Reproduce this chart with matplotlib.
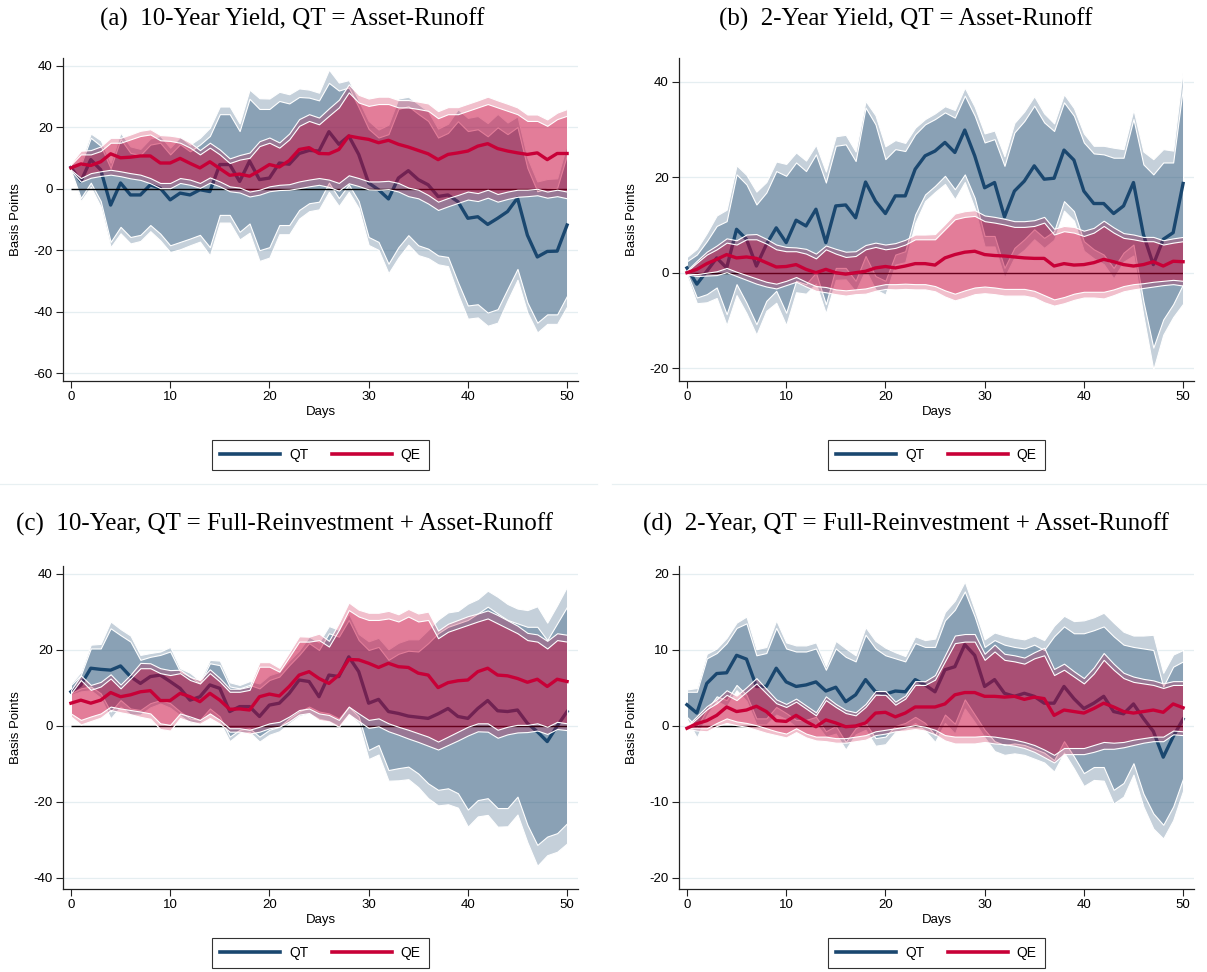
import numpy as np
import matplotlib.pyplot as plt
from matplotlib.lines import Line2D

plt.rcParams['font.family'] = ['Liberation Sans', 'DejaVu Sans']
plt.rcParams['axes.unicode_minus'] = False

days = np.arange(51)

# (a) 10-year yield, QT = asset-runoff
qt_mean_a = [7.0, 2.4, 9.5, 6.2, -5.3, 1.9, -2.0, -2.0, 1.3, 0.2,
             -3.6, -1.4, -2.0, -0.3, -0.9, 7.9, 7.9, 2.4, 9.0, 3.0,
             3.5, 8.4, 8.0, 11.5, 12.5, 12.3, 18.6, 14.5, 17.2, 11.2,
             1.9, -0.3, -3.3, 3.5, 5.9, 3.0, 1.3, -2.5, -2.0, -4.2,
             -9.6, -9.1, -11.6, -9.6, -7.4, -3.0, -15.1, -22.2, -20.4, -20.3, -11.8]
qt_lo_a = [6.0, -3.0, 2.0, -4.0, -17.3, -12.4, -15.7, -15.0, -11.8, -14.6,
           -18.4, -17.3, -16.2, -15.0, -19.0, -8.5, -8.5, -14.0, -11.3, -20.0,
           -19.0, -11.8, -11.8, -6.9, -4.7, -4.2, 2.0, -3.0, 1.4, -4.0,
           -15.7, -17.3, -24.4, -19.0, -15.1, -18.4, -19.5, -21.7, -22.2, -30.4,
           -38.0, -37.6, -40.3, -39.2, -32.6, -26.1, -37.0, -43.6, -40.9, -40.9, -34.8]
qt_hi_a = [8.0, 7.8, 16.6, 14.0, 6.7, 16.2, 11.7, 11.0, 14.4, 15.0,
           11.2, 14.5, 12.2, 14.4, 17.2, 24.3, 24.3, 18.8, 29.3, 26.0,
           26.0, 28.6, 27.8, 29.9, 29.7, 28.8, 34.5, 32.0, 33.0, 26.5,
           19.5, 16.7, 17.8, 26.0, 26.9, 24.4, 22.1, 16.7, 18.2, 22.0,
           18.8, 19.4, 17.1, 20.0, 17.8, 20.1, 6.8, -0.8, 0.1, 0.3, 11.2]
qt_lo95_a = [5.7, -4.0, 0.6, -5.8, -19.0, -14.5, -17.8, -17.0, -13.8, -16.8,
             -20.6, -19.7, -18.4, -17.2, -21.7, -11.0, -11.0, -16.5, -14.3, -23.5,
             -22.4, -14.8, -14.8, -9.7, -7.3, -6.7, -1.0, -5.6, -1.0, -6.3,
             -18.3, -19.9, -27.5, -22.4, -18.2, -21.6, -22.6, -24.6, -25.2, -34.3,
             -42.3, -41.9, -44.6, -43.6, -36.4, -29.6, -40.3, -46.8, -44.0, -44.0, -38.3]
qt_hi95_a = [8.3, 8.8, 18.0, 15.8, 8.5, 18.3, 13.8, 13.0, 16.4, 17.2,
             13.4, 16.9, 14.4, 16.6, 19.9, 26.8, 26.8, 21.3, 32.3, 29.5,
             29.4, 31.6, 30.8, 32.7, 32.3, 31.3, 38.8, 34.6, 35.4, 28.8,
             22.1, 19.3, 20.9, 29.4, 30.0, 27.6, 25.2, 19.6, 21.2, 25.9,
             23.1, 23.7, 21.4, 24.4, 21.6, 23.6, 10.1, 2.4, 3.2, 3.4, 14.7]
qe_mean_a = [6.8, 8.1, 7.6, 8.8, 11.4, 10.1, 10.3, 10.7, 10.7, 8.4,
             8.4, 9.9, 8.3, 6.8, 8.8, 6.6, 4.4, 4.8, 4.1, 5.9,
             7.9, 7.1, 9.2, 12.8, 13.4, 11.5, 11.4, 12.8, 17.2, 16.6,
             16.1, 15.0, 15.8, 14.5, 13.6, 12.5, 11.4, 9.5, 11.2, 11.7,
             12.3, 13.9, 14.7, 13.1, 12.3, 11.7, 11.2, 11.7, 9.5, 11.5, 11.5]
qe_lo_a = [6.2, 3.5, 5.1, 5.7, 6.2, 5.7, 5.1, 4.6, 3.5, 1.9,
           1.9, 3.5, 3.0, 1.9, 3.7, 2.4, 0.8, 0.4, -0.9, -0.3,
           0.8, 1.3, 1.5, 2.4, 3.0, 3.5, 3.0, 1.9, 4.4, 3.5,
           2.4, 2.4, 2.6, 1.9, 0.4, -0.3, -2.0, -4.2, -3.0, -2.0,
           -0.9, -1.4, -0.3, -1.7, -0.9, -0.3, -0.3, 0.0, -0.9, -0.3, -0.9]
qe_hi_a = [7.9, 11.2, 11.2, 12.3, 15.0, 15.0, 16.1, 17.2, 17.7, 15.8,
           15.6, 15.0, 13.4, 11.2, 13.4, 11.2, 8.4, 9.5, 10.1, 13.9,
           15.0, 13.4, 16.1, 20.5, 22.1, 21.0, 23.8, 26.5, 31.4, 28.1,
           27.0, 27.6, 27.6, 26.5, 26.5, 26.0, 25.4, 23.0, 24.3, 24.3,
           25.4, 26.5, 27.6, 26.5, 25.4, 24.3, 22.1, 22.1, 20.5, 22.7, 23.8]
qe_lo95_a = [5.9, 2.3, 3.6, 4.2, 4.6, 4.1, 3.4, 2.9, 1.8, 0.2,
             0.2, 1.9, 1.3, 0.3, 2.0, 0.8, -0.8, -1.2, -2.5, -1.9,
             -0.8, -0.4, -0.3, 0.2, 0.8, 1.3, 0.6, -0.6, 1.8, 0.9,
             -0.2, -0.3, -0.1, -0.9, -2.4, -3.1, -4.8, -6.9, -5.7, -4.6,
             -3.5, -4.0, -2.9, -4.2, -3.3, -2.6, -2.4, -2.1, -2.9, -2.4, -3.1]
qe_hi95_a = [8.3, 12.4, 12.6, 13.8, 16.6, 16.6, 17.7, 18.9, 19.4, 17.5,
             17.3, 16.8, 15.1, 12.6, 15.0, 12.8, 9.9, 11.0, 11.8, 15.5,
             16.7, 15.1, 18.0, 22.7, 24.3, 23.2, 26.2, 29.0, 34.0, 30.6,
             29.4, 30.0, 30.0, 28.9, 28.9, 28.4, 27.8, 25.3, 26.6, 26.6,
             27.7, 28.8, 30.0, 28.8, 27.7, 26.5, 24.2, 24.2, 22.6, 24.8, 26.0]

# (b) 2-year yield, QT = asset-runoff
qt_mean_b = [1.0, -2.4, 0.3, 3.1, 1.0, 9.1, 7.0, 1.4, 5.9, 9.4,
             6.3, 11.0, 9.8, 13.3, 6.3, 14.0, 14.2, 11.5, 19.0, 15.0,
             12.4, 16.1, 16.1, 21.7, 24.5, 25.5, 27.3, 25.2, 29.9, 24.5,
             17.8, 18.9, 11.7, 17.1, 19.2, 22.4, 19.6, 19.8, 25.7, 23.6,
             17.1, 14.5, 14.5, 12.4, 14.0, 18.9, 8.0, 1.7, 7.0, 8.4, 18.7]
qt_lo_b = [0.0, -5.2, -4.5, -3.1, -8.7, -2.4, -6.3, -10.8, -5.9, -3.8,
           -8.4, -1.7, -2.4, 0.0, -6.6, 1.0, 1.0, -1.7, 3.5, -0.7,
           -1.7, 3.8, 4.5, 12.2, 16.4, 18.2, 20.3, 17.5, 20.6, 15.7,
           7.7, 7.7, 1.0, 5.2, 7.0, 9.1, 7.3, 8.7, 15.0, 12.9,
           6.6, 4.9, 3.8, 1.0, 4.2, 5.9, -6.0, -15.7, -9.8, -6.6, -2.4]
qt_hi_b = [2.4, 3.8, 6.6, 9.8, 10.8, 20.6, 18.5, 14.3, 16.8, 21.3,
           20.3, 23.1, 21.3, 24.8, 18.9, 26.6, 26.9, 23.4, 34.6, 31.1,
           23.8, 25.9, 25.5, 29.0, 31.1, 32.2, 33.6, 32.5, 37.1, 32.9,
           27.3, 28.0, 22.4, 29.4, 31.8, 35.0, 31.5, 29.7, 35.7, 32.9,
           27.3, 25.0, 24.8, 24.1, 24.1, 32.2, 22.7, 20.6, 23.1, 23.1, 39.0]
qt_lo95_b = [-0.7, -6.4, -6.2, -5.3, -11.0, -4.7, -8.5, -13.0, -8.0, -6.3,
             -11.0, -4.1, -4.4, -2.3, -8.5, -1.5, -1.4, -3.9, 0.6, -3.5,
             -4.6, 1.7, 2.2, 10.4, 15.0, 16.9, 18.6, 15.4, 19.0, 13.5,
             5.5, 5.5, -1.0, 3.2, 4.8, 7.0, 5.2, 6.9, 13.0, 10.9,
             4.6, 3.0, 1.8, -1.2, 2.3, 3.6, -9.0, -20.3, -13.0, -9.3, -6.5]
qt_hi95_b = [3.3, 5.0, 8.3, 12.0, 13.2, 22.5, 20.5, 17.0, 19.0, 23.3,
             22.8, 25.2, 23.5, 26.8, 21.2, 28.6, 28.9, 25.4, 36.0, 33.0,
             26.5, 27.8, 27.2, 30.4, 32.2, 33.4, 34.9, 34.1, 38.8, 34.8,
             29.2, 29.8, 24.4, 31.4, 33.8, 37.0, 33.4, 31.3, 37.4, 34.5,
             29.2, 26.6, 26.6, 26.2, 25.9, 34.2, 25.4, 23.8, 25.9, 25.6, 43.0]
qe_mean_b = [0.0, 0.7, 1.9, 2.8, 3.8, 3.1, 3.3, 3.0, 2.1, 1.2,
             1.3, 1.7, 0.7, 0.0, 0.7, 0.0, -0.3, 0.0, 0.3, 1.0,
             1.3, 1.0, 1.4, 1.9, 1.9, 1.6, 3.1, 3.8, 4.3, 4.5,
             3.8, 3.6, 3.5, 3.3, 3.1, 3.0, 3.0, 1.4, 1.9, 1.6,
             1.7, 2.1, 2.8, 2.3, 1.7, 1.4, 1.7, 2.3, 1.4, 2.4, 2.3]
qe_lo_b = [-0.2, -0.3, 0.0, 0.3, 1.0, 0.2, -0.5, -1.2, -1.9, -2.3,
           -1.7, -0.9, -1.9, -2.8, -3.0, -3.5, -3.7, -3.5, -3.3, -2.8,
           -2.4, -2.4, -2.3, -2.4, -2.4, -2.8, -3.7, -4.4, -3.7, -3.1,
           -2.9, -3.1, -3.4, -3.4, -3.4, -3.8, -4.7, -5.6, -5.1, -4.4,
           -4.0, -4.0, -4.0, -3.5, -2.8, -2.4, -2.2, -1.9, -1.7, -1.5, -1.7]
qe_hi_b = [0.3, 2.1, 3.8, 4.9, 6.3, 5.9, 7.0, 7.0, 6.1, 4.9,
           4.5, 4.5, 4.0, 3.0, 4.9, 4.0, 3.3, 3.5, 4.9, 5.4,
           4.9, 5.2, 5.9, 7.0, 7.0, 7.0, 9.1, 11.2, 11.7, 11.9,
           10.8, 10.5, 10.1, 9.6, 9.6, 9.8, 10.5, 8.0, 8.7, 8.4,
           7.7, 8.4, 9.8, 8.4, 7.3, 7.0, 6.6, 6.6, 5.9, 6.3, 6.6]
qe_lo95_b = [-0.4, -0.7, -0.6, -0.5, 0.1, -0.7, -1.5, -2.3, -2.9, -3.3,
             -2.6, -1.9, -2.9, -3.8, -4.1, -4.5, -4.8, -4.5, -4.4, -3.8,
             -3.4, -3.5, -3.4, -3.5, -3.5, -3.9, -5.0, -5.8, -5.2, -4.5,
             -4.3, -4.5, -4.8, -4.8, -4.8, -5.2, -6.2, -6.9, -6.4, -5.7,
             -5.2, -5.2, -5.4, -4.7, -3.9, -3.5, -3.2, -2.9, -2.6, -2.4, -2.7]
qe_hi95_b = [0.5, 2.5, 4.4, 5.7, 7.2, 6.8, 8.0, 8.1, 7.1, 5.9,
             5.4, 5.3, 5.0, 4.0, 5.7, 5.0, 4.4, 4.5, 5.8, 6.3,
             5.9, 6.2, 6.9, 8.0, 8.0, 8.1, 10.2, 12.4, 12.9, 13.1,
             12.0, 11.7, 11.3, 10.8, 10.8, 11.0, 11.7, 9.2, 9.8, 9.6,
             8.8, 9.4, 10.9, 9.5, 8.3, 8.0, 7.5, 7.5, 6.8, 7.2, 7.5]

# (c) 10-year, QT = full-reinvestment + asset-runoff
qt_mean_c = [9.0, 10.8, 15.2, 14.9, 14.7, 15.8, 13.0, 11.2, 13.0, 13.4,
             11.7, 9.9, 6.8, 7.7, 10.8, 9.9, 3.8, 5.1, 5.1, 2.5,
             5.5, 6.0, 8.6, 12.1, 11.7, 7.7, 13.4, 13.0, 18.2, 14.3,
             6.0, 7.0, 3.8, 3.3, 2.6, 2.3, 2.0, 3.2, 4.6, 2.5,
             2.0, 4.6, 6.7, 4.0, 3.8, 4.2, 0.7, -1.5, -4.1, 0.0, 3.8]
qt_lo_c = [8.6, 9.9, 10.4, 8.6, 3.8, 6.8, 4.6, 4.2, 6.0, 6.8,
           6.0, 3.8, 2.0, 1.6, 4.6, 2.5, -2.8, -1.0, -0.6, -2.8,
           -1.0, -0.2, 2.0, 3.8, 5.1, 3.8, 3.3, 2.0, 5.1, 2.5,
           -6.3, -5.0, -11.6, -11.1, -10.7, -12.5, -15.1, -16.8, -16.4, -17.7,
           -22.0, -19.5, -19.0, -21.6, -21.6, -18.6, -26.0, -31.3, -29.1, -28.2, -25.6]
qt_hi_c = [10.8, 13.4, 20.4, 20.4, 25.7, 23.9, 22.2, 17.4, 18.2, 18.7,
           19.6, 14.3, 13.0, 11.2, 16.5, 16.0, 10.4, 9.9, 10.8, 9.9,
           12.1, 13.0, 16.0, 18.7, 21.8, 20.0, 24.4, 23.5, 27.9, 22.6,
           20.0, 20.8, 17.4, 19.0, 19.8, 19.6, 21.8, 24.4, 26.1, 27.0,
           27.9, 29.6, 31.4, 29.6, 27.9, 27.0, 26.1, 26.1, 22.6, 27.0, 31.4]
qt_lo95_c = [8.2, 9.1, 9.4, 7.4, 2.0, 5.1, 3.0, 3.0, 4.9, 5.9,
             4.8, 2.8, 0.9, 0.9, 3.3, 1.1, -4.0, -1.9, -1.6, -4.1,
             -2.3, -1.4, 0.7, 2.6, 3.3, 1.9, 1.3, 0.0, 3.2, 0.7,
             -8.7, -7.5, -14.4, -14.3, -14.0, -16.1, -19.0, -20.9, -20.6, -21.5,
             -26.5, -23.8, -23.4, -26.5, -26.4, -23.3, -30.6, -36.8, -34.0, -33.1, -30.9]
qt_hi95_c = [11.2, 14.2, 21.4, 21.6, 27.5, 25.5, 23.8, 18.7, 19.2, 19.6,
             20.8, 15.2, 14.0, 11.9, 17.4, 17.2, 11.5, 10.8, 11.8, 11.2,
             13.4, 14.2, 17.2, 19.9, 23.5, 22.0, 26.3, 25.3, 29.6, 24.2,
             22.3, 23.2, 20.2, 21.9, 22.8, 22.8, 25.3, 28.0, 29.9, 30.3,
             32.2, 33.4, 35.6, 34.0, 32.1, 30.9, 30.5, 31.5, 27.2, 31.8, 36.7]
qe_mean_c = [6.0, 6.8, 6.0, 6.8, 8.8, 7.7, 8.2, 9.0, 9.3, 6.7,
             6.7, 8.6, 7.7, 6.4, 8.6, 6.8, 4.4, 4.5, 4.2, 7.7,
             8.4, 7.9, 10.4, 13.4, 14.3, 12.5, 11.2, 13.4, 17.5, 17.4,
             16.5, 15.4, 16.5, 15.6, 15.4, 13.9, 13.4, 10.1, 11.4, 11.9,
             12.1, 14.3, 15.2, 13.4, 13.2, 12.5, 11.5, 12.3, 10.4, 12.3, 11.7]
qe_lo_c = [3.3, 1.6, 2.5, 3.3, 5.1, 4.6, 4.2, 3.8, 3.3, 0.7,
           0.3, 3.3, 2.5, 1.6, 3.3, 1.6, -0.6, -0.6, -1.0, -0.2,
           0.7, 1.1, 2.5, 4.2, 4.6, 3.3, 2.9, 1.6, 5.1, 3.3,
           1.6, 2.0, 0.7, -0.2, -1.0, -1.9, -2.8, -4.1, -2.8, -1.5,
           -0.2, 0.7, 0.7, -1.0, -0.2, 0.3, 0.3, 0.7, -0.2, 1.1, 0.7]
qe_hi_c = [8.6, 12.1, 9.5, 10.4, 12.5, 9.9, 12.5, 15.2, 15.2, 13.9,
           13.4, 13.9, 12.1, 11.2, 13.9, 11.7, 9.0, 9.0, 9.5, 15.6,
           15.6, 14.3, 18.2, 22.2, 22.2, 22.6, 20.9, 25.3, 30.5, 28.8,
           27.9, 27.9, 28.3, 27.5, 28.8, 27.5, 27.9, 23.1, 24.8, 25.7,
           26.6, 27.5, 28.3, 27.0, 25.7, 24.4, 22.6, 22.2, 20.4, 22.6, 22.2]
qe_lo95_c = [2.5, 0.4, 1.3, 2.2, 4.2, 3.6, 3.1, 2.4, 1.9, -0.8,
             -1.2, 2.1, 1.2, 0.6, 2.1, 0.6, -1.5, -1.5, -2.0, -1.5,
             -0.6, -0.2, 1.2, 3.0, 3.4, 1.6, 1.2, -0.2, 3.1, 1.3,
             -0.5, -0.1, -1.4, -2.3, -3.3, -4.2, -5.2, -6.2, -5.0, -3.8,
             -2.5, -1.4, -1.5, -3.1, -2.2, -1.7, -1.6, -1.2, -2.1, -0.8, -1.1]
qe_hi95_c = [9.4, 13.3, 10.8, 11.6, 13.6, 10.9, 13.5, 16.6, 16.5, 15.2,
             14.7, 14.8, 12.9, 12.1, 14.9, 12.6, 9.8, 9.8, 10.4, 16.8,
             16.8, 15.3, 19.4, 23.6, 23.5, 24.3, 22.4, 27.1, 32.5, 30.6,
             29.8, 29.8, 30.3, 29.4, 30.8, 29.6, 30.1, 25.1, 26.9, 27.9,
             28.9, 29.6, 30.4, 29.2, 27.8, 26.4, 24.5, 24.1, 22.4, 24.4, 24.0]

# (d) 2-year, QT = full-reinvestment + asset-runoff
qt_mean_d = [2.8, 1.7, 5.6, 6.9, 7.0, 9.3, 8.8, 5.2, 5.2, 7.6,
             5.8, 5.2, 5.4, 5.8, 4.6, 5.1, 3.2, 4.1, 6.1, 4.5,
             4.2, 4.6, 4.5, 6.1, 5.4, 4.5, 7.4, 7.8, 10.7, 9.3,
             5.2, 6.1, 4.3, 3.9, 4.3, 3.9, 3.0, 3.0, 5.2, 3.6,
             2.3, 3.0, 3.9, 1.9, 1.6, 2.9, 1.0, -0.7, -4.1, -1.4, 0.9]
qt_lo_d = [1.2, -0.1, 2.1, 3.9, 3.4, 5.4, 4.1, 1.0, 1.0, 2.5,
           1.7, 0.8, 0.8, 1.2, -0.7, 0.0, -2.1, -0.3, 0.4, -1.6,
           -1.4, 0.0, 0.4, 1.2, 0.4, -1.2, 1.5, 0.3, 3.5, 1.5,
           -0.5, -2.0, -2.5, -2.3, -2.5, -3.0, -3.5, -4.5, -2.0, -4.0,
           -6.2, -5.4, -5.4, -8.4, -7.5, -4.9, -8.9, -11.5, -13.0, -10.6, -6.9]
qt_hi_d = [4.5, 4.5, 8.9, 9.6, 10.9, 12.9, 13.5, 9.3, 9.6, 12.9,
           10.2, 9.8, 9.8, 10.2, 7.4, 10.2, 9.1, 8.5, 12.0, 10.2,
           9.3, 8.9, 8.5, 10.9, 10.4, 10.4, 13.9, 15.3, 17.7, 14.4,
           10.4, 11.3, 10.7, 10.4, 10.2, 10.7, 10.0, 11.8, 13.1, 12.2,
           12.2, 12.6, 13.1, 11.8, 10.7, 10.4, 10.2, 10.0, 5.2, 7.8, 8.5]
qt_lo95_d = [0.9, -1.5, 1.4, 3.3, 2.6, 4.7, 3.3, 0.2, 0.2, 1.5,
             0.9, -0.1, -0.1, 0.3, -1.4, -1.0, -3.1, -1.1, -0.5, -2.6,
             -2.4, -0.8, -0.4, 0.4, -0.6, -2.1, 0.4, -1.0, 2.3, 0.5,
             -1.5, -3.3, -3.8, -3.6, -3.8, -4.3, -4.8, -6.0, -3.5, -5.6,
             -7.9, -7.1, -7.2, -10.2, -9.3, -6.4, -10.6, -13.5, -14.8, -12.4, -8.5]
qt_hi95_d = [4.8, 5.0, 9.5, 10.2, 11.6, 13.6, 14.4, 10.1, 10.4, 13.9,
             11.0, 10.6, 10.6, 11.0, 7.9, 11.2, 10.2, 9.3, 13.0, 11.2,
             10.3, 9.7, 9.2, 11.8, 11.3, 11.5, 15.0, 16.5, 19.0, 15.3,
             11.4, 12.3, 11.9, 11.6, 11.4, 11.9, 11.3, 13.2, 14.5, 13.8,
             13.9, 14.3, 14.9, 13.6, 12.4, 11.9, 11.9, 12.0, 7.0, 9.4, 10.0]
qe_mean_d = [-0.3, 0.3, 0.7, 1.4, 2.5, 1.9, 2.1, 2.6, 1.9, 0.7,
             0.6, 1.4, 0.6, -0.1, 0.8, 0.4, -0.1, 0.0, 0.4, 1.7,
             1.8, 1.2, 1.7, 2.5, 2.5, 2.5, 2.9, 4.1, 4.4, 4.4,
             3.9, 3.9, 3.8, 3.9, 3.5, 3.8, 3.6, 1.4, 2.1, 1.9,
             1.7, 2.3, 3.0, 2.5, 1.9, 1.7, 1.9, 2.1, 1.8, 2.9, 2.4]
qe_lo_d = [-0.3, -0.3, -0.3, 0.4, 1.0, 0.6, 0.4, 0.1, -0.3, -0.7,
           -1.0, -0.3, -1.0, -1.4, -1.4, -1.6, -1.6, -1.4, -1.2, -0.7,
           -0.5, -0.3, -0.1, 0.1, -0.1, -0.5, -1.2, -1.4, -1.4, -1.4,
           -1.3, -1.4, -1.6, -1.8, -2.1, -2.5, -3.1, -3.8, -2.9, -2.9,
           -2.9, -2.5, -2.1, -2.2, -2.1, -1.8, -1.6, -1.4, -1.4, -0.6, -0.7]
qe_hi_d = [-0.1, 1.0, 2.2, 3.0, 4.1, 3.4, 4.5, 5.6, 4.3, 3.0,
           2.5, 3.2, 2.3, 1.4, 3.4, 2.5, 1.7, 1.4, 2.5, 4.1,
           4.1, 2.8, 3.6, 5.4, 5.4, 6.1, 8.5, 10.9, 11.1, 11.1,
           8.7, 9.8, 8.7, 8.5, 8.2, 8.9, 9.3, 6.7, 7.4, 6.5,
           5.6, 6.9, 8.7, 7.4, 6.3, 5.8, 5.6, 5.4, 5.0, 5.4, 5.4]
qe_lo95_d = [-0.4, -0.6, -0.7, 0.0, 0.4, 0.1, -0.1, -0.5, -0.9, -1.2,
             -1.5, -0.8, -1.5, -1.9, -2.0, -2.2, -2.2, -2.0, -1.8, -1.2,
             -1.0, -0.7, -0.6, -0.4, -0.6, -1.1, -1.9, -2.3, -2.3, -2.3,
             -2.1, -2.3, -2.4, -2.6, -2.9, -3.4, -4.1, -4.8, -3.7, -3.7,
             -3.7, -3.4, -3.0, -3.0, -2.8, -2.5, -2.2, -2.0, -2.0, -1.1, -1.2]
qe_hi95_d = [0.0, 1.3, 2.6, 3.5, 4.7, 4.0, 5.1, 6.3, 4.9, 3.5,
             2.9, 3.6, 2.7, 1.8, 3.9, 2.9, 2.1, 1.8, 2.9, 4.6,
             4.6, 3.2, 4.0, 5.9, 5.9, 6.7, 9.3, 11.9, 12.1, 12.1,
             9.5, 10.7, 9.5, 9.3, 9.0, 9.7, 10.3, 7.5, 8.2, 7.2,
             6.3, 7.7, 9.6, 8.2, 7.0, 6.5, 6.2, 6.0, 5.6, 5.9, 5.9]

titles = ["(a)  10-Year Yield, QT = Asset-Runoff",
          "(b)  2-Year Yield, QT = Asset-Runoff",
          "(c)  10-Year, QT = Full-Reinvestment + Asset-Runoff",
          "(d)  2-Year, QT = Full-Reinvestment + Asset-Runoff"]

NAVY = (26/255, 71/255, 111/255)
RED = (200/255, 0/255, 55/255)


def draw_panel(ax, qt, qe, ylim, yticks):
    z = 1
    for (mean, lo, hi, lo95, hi95), col in ((qt, NAVY), (qe, RED)):
        ax.fill_between(days, lo95, hi95, facecolor=(*col, 0.25),
                        edgecolor='white', linewidth=0.8, zorder=z)
        ax.fill_between(days, lo, hi, facecolor=(*col, 0.34),
                        edgecolor='white', linewidth=0.8, zorder=z + 0.1)
        ax.plot(days, mean, color=col, lw=2.4, zorder=z + 0.3)
        z += 1
    ax.hlines(0, 0, 50, color='black', lw=1.0, zorder=1.5)
    ax.set_xlim(-0.8, 51.1)
    ax.set_ylim(*ylim)
    ax.set_xticks(range(0, 51, 10))
    ax.set_yticks(yticks)
    ax.yaxis.grid(True, color='#e5eef1', lw=0.9)
    ax.set_axisbelow(True)
    for s in ('top', 'right'):
        ax.spines[s].set_visible(False)
    for s in ('left', 'bottom'):
        ax.spines[s].set_linewidth(0.9)
        ax.spines[s].set_color('#222222')
    ax.tick_params(direction='out', length=5, width=0.8, labelsize=9.5,
                   color='#222222', pad=2.5)
    ax.set_xlabel('Days', fontsize=9.5, labelpad=2)
    ax.set_ylabel('Basis Points', fontsize=9.5, labelpad=8)


fig = plt.figure(figsize=(12.07, 9.72), dpi=100)
W, H = 1207, 972

panels = [
    ((qt_mean_a, qt_lo_a, qt_hi_a, qt_lo95_a, qt_hi95_a),
     (qe_mean_a, qe_lo_a, qe_hi_a, qe_lo95_a, qe_hi95_a),
     (-62.6, 42.6), [-60, -40, -20, 0, 20, 40], 63, 58, 455),
    ((qt_mean_b, qt_lo_b, qt_hi_b, qt_lo95_b, qt_hi95_b),
     (qe_mean_b, qe_lo_b, qe_hi_b, qe_lo95_b, qe_hi95_b),
     (-22.7, 45.0), [-20, 0, 20, 40], 679, 58, 455),
    ((qt_mean_c, qt_lo_c, qt_hi_c, qt_lo95_c, qt_hi95_c),
     (qe_mean_c, qe_lo_c, qe_hi_c, qe_lo95_c, qe_hi95_c),
     (-42.9, 42.1), [-40, -20, 0, 20, 40], 63, 566, 953),
    ((qt_mean_d, qt_lo_d, qt_hi_d, qt_lo95_d, qt_hi95_d),
     (qe_mean_d, qe_lo_d, qe_hi_d, qe_lo95_d, qe_hi95_d),
     (-21.45, 21.05), [-20, -10, 0, 10, 20], 679, 566, 953),
]
title_pos = [(292, 19), (906, 19), (285, 524), (906, 524)]

for i, (qt, qe, ylim, yt, left, top, leg_y) in enumerate(panels):
    ax = fig.add_axes([left / W, 1 - (top + 323) / H, 515 / W, 323 / H])
    draw_panel(ax, qt, qe, ylim, yt)
    handles = [Line2D([], [], color=NAVY, lw=2.6), Line2D([], [], color=RED, lw=2.6)]
    leg = ax.legend(handles, ['QT', 'QE'], loc='center', ncol=2,
                    bbox_to_anchor=((left + 257.5) / W, 1 - leg_y / H),
                    bbox_transform=fig.transFigure, fontsize=10,
                    frameon=True, fancybox=False, edgecolor='black',
                    handlelength=4.3, handletextpad=0.65, columnspacing=1.7,
                    borderpad=0.6)
    leg.get_frame().set_linewidth(0.8)
    tx, ty = title_pos[i]
    fig.text(tx / W, 1 - ty / H, titles[i], ha='center', va='center',
             fontsize=18, family=['Liberation Serif', 'DejaVu Serif'])

# faint borders between the top and bottom graphs
fig.add_artist(Line2D([0, 597 / W], [1 - 484 / H] * 2, color='#e8f0f2', lw=0.9))
fig.add_artist(Line2D([612 / W, 1], [1 - 484 / H] * 2, color='#e8f0f2', lw=0.9))

fig.savefig('out.png', dpi=100)
